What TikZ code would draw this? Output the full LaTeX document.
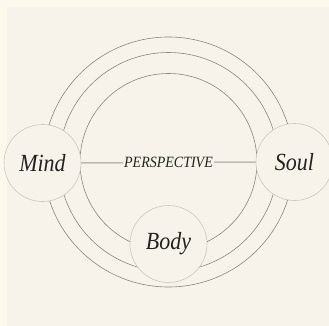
\documentclass[tikz,border=0pt]{standalone}
\usepackage{fontspec}
\setmainfont{Liberation Serif}
\usepackage{xcolor}
\definecolor{pageBack}  {HTML}{FDF8EC}
\definecolor{panelBack} {HTML}{F7F3EA}
\definecolor{ringLine}  {HTML}{8A8680}
\definecolor{nodeLine}  {HTML}{CCC8C0}
\definecolor{inkText}   {HTML}{222222}
\usetikzlibrary{positioning}
\newcommand{\tallname}[1]{\scalebox{1}[1.12]{#1}}
\begin{document}
\begin{tikzpicture}[
    x=1pt, y=-1pt,
    ring/.style={draw=ringLine, line width=0.6pt},
    part/.style={draw=nodeLine, line width=0.6pt, circle, fill=panelBack,
                 minimum size=77pt, inner sep=0pt, text=inkText,
                 font=\fontsize{22}{24}\selectfont\itshape},
    tie/.style={draw=ringLine!85, line width=1pt},
    lab/.style={fill=panelBack, inner sep=1pt, text=inkText,
                font=\fontsize{14}{16}\selectfont\itshape}
]
% Page and panel
\fill[pageBack] (0,0) rectangle (329,326);
\fill[panelBack] (7,7) rectangle (329,326);
\useasboundingbox (0,0) rectangle (329,326);
% Rings
\coordinate (ctr) at (168.5,162);
\foreach \r in {125, 109.5, 88.5} {
    \draw[ring] (ctr) circle[radius=\r];
}
% Parts
\node[part] (mind) at (42.5,163) {\tallname{Mind}};
\node[part] (soul) at (294.5,162) {\tallname{Soul}};
\node[part] (body) at (168.5,244) {\tallname{Body}};
% Perspective line
\draw[tie] (mind.east) -- (soul.west) node[lab, midway] (persp) {\tallname{PERSPECTIVE}};
\end{tikzpicture}
\end{document}
